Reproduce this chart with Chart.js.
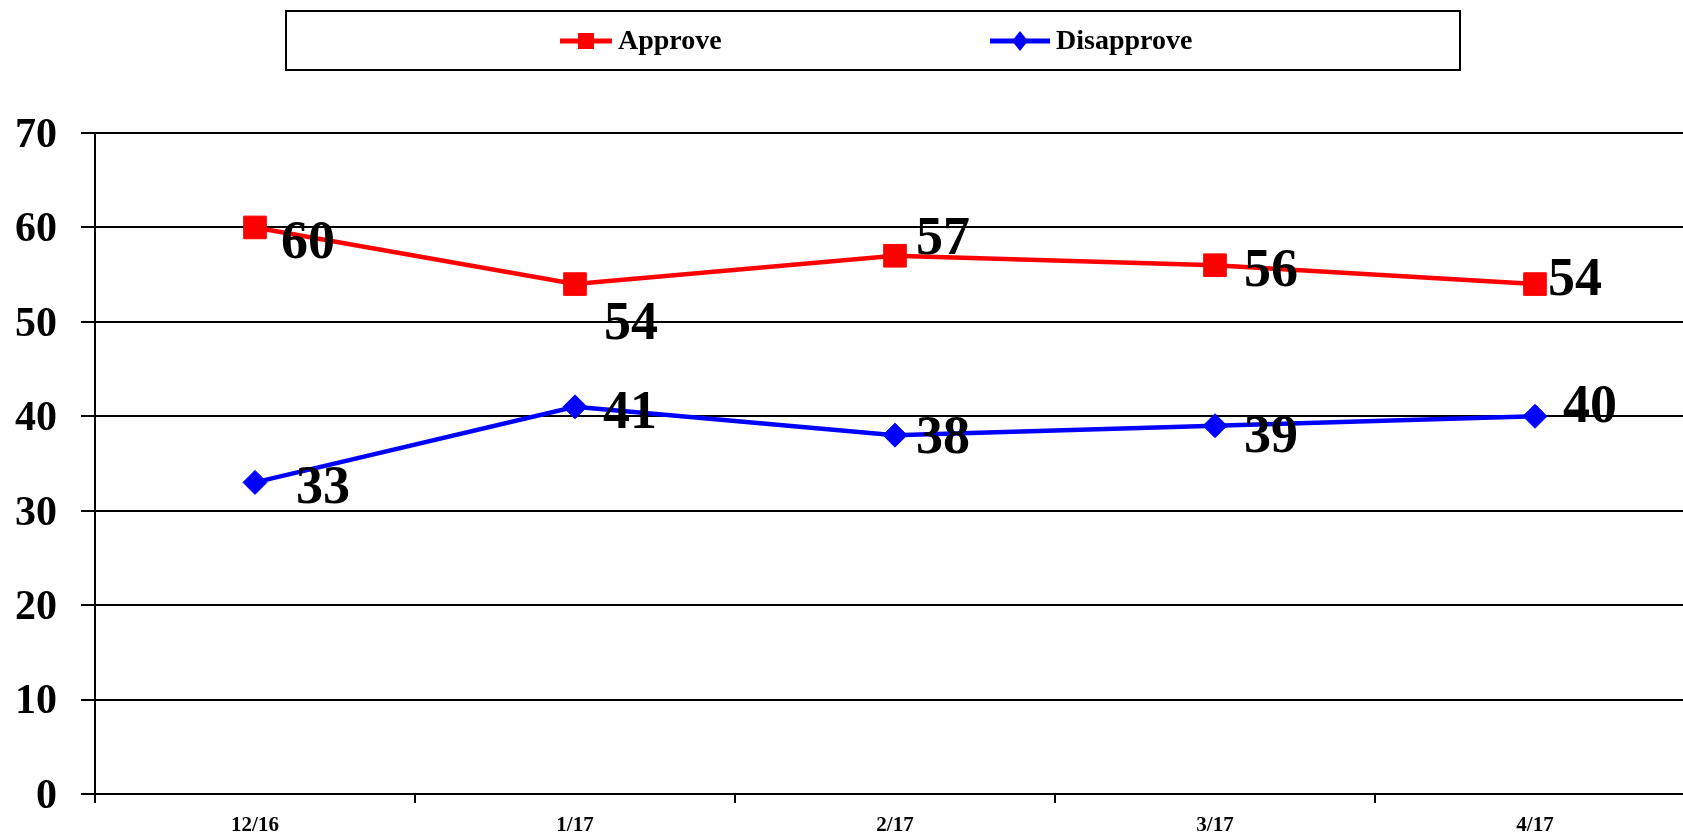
<!DOCTYPE html>
<html>
<head>
<meta charset="utf-8">
<script src="https://cdn.jsdelivr.net/npm/chart.js@4/dist/chart.umd.min.js"></script>
<style>
html,body{margin:0;padding:0;background:#fff;overflow:hidden;width:1683px;height:832px;}
#wrap{position:relative;left:0;top:0;width:1683px;height:832px;overflow:hidden;}
#c{display:block;width:1712px;height:832px;max-width:none;}
</style>
</head>
<body>
<div id="wrap"><canvas id="c" width="1712" height="832" style="width:1712px;height:832px;max-width:none;"></canvas></div>
<script>
const categories = ["12/16", "1/17", "2/17", "3/17", "4/17"];
const approve = [60, 54, 57, 56, 54];
const disapprove = [33, 41, 38, 39, 40];
const yTicks = [0, 10, 20, 30, 40, 50, 60, 70];

// label placement offsets (pixels from point), kept apart from the data
const approveLabelOffsets = [[53, 17], [56, 41], [48, -16], [56, 7], [40, -3]];
const disapproveLabelOffsets = [[68, 7], [55, 7], [48, 4], [56, 12], [55, -8]];

const FONT = "'Liberation Serif', 'Times New Roman', serif";

const dataLabelPlugin = {
  id: 'dataLabels',
  afterDatasetsDraw(chart) {
    const ctx = chart.ctx;
    ctx.save();
    ctx.font = "bold 54px " + FONT;
    ctx.fillStyle = '#000';
    ctx.textAlign = 'center';
    ctx.textBaseline = 'middle';
    chart.data.datasets.forEach((ds, i) => {
      const meta = chart.getDatasetMeta(i);
      const offs = ds.labelOffsets || [];
      meta.data.forEach((pt, j) => {
        const o = offs[j] || [40, 0];
        ctx.fillText(String(ds.data[j]), pt.x + o[0], pt.y + o[1]);
      });
    });
    ctx.restore();
  }
};

const legendPlugin = {
  id: 'boxLegend',
  afterDraw(chart) {
    const ctx = chart.ctx;
    ctx.save();
    ctx.strokeStyle = '#000';
    ctx.lineWidth = 2;
    ctx.strokeRect(286, 11, 1174, 59);
    const items = [
      {x: 560, len: 52, ds: chart.data.datasets[0]},
      {x: 990, len: 60, ds: chart.data.datasets[1]}
    ];
    const y = 41;
    items.forEach(it => {
      const c = it.ds.borderColor;
      const len = it.len;
      ctx.strokeStyle = c;
      ctx.lineWidth = 5;
      ctx.beginPath();
      ctx.moveTo(it.x, y);
      ctx.lineTo(it.x + len, y);
      ctx.stroke();
      ctx.fillStyle = c;
      const cx = it.x + len / 2;
      if (it.ds.pointStyle === 'rect') {
        ctx.fillRect(cx - 8, y - 8, 16, 16);
      } else {
        ctx.beginPath();
        ctx.moveTo(cx, y - 10);
        ctx.lineTo(cx + 8, y);
        ctx.lineTo(cx, y + 10);
        ctx.lineTo(cx - 8, y);
        ctx.closePath();
        ctx.fill();
      }
      ctx.fillStyle = '#000';
      ctx.font = "bold 28px " + FONT;
      ctx.textAlign = 'left';
      ctx.textBaseline = 'middle';
      ctx.fillText(it.ds.label, it.x + len + 6, y + 1);
    });
    ctx.restore();
  }
};

new Chart(document.getElementById('c'), {
  type: 'line',
  data: {
    labels: categories,
    datasets: [
      {
        label: 'Approve',
        data: approve,
        borderColor: '#FF0000',
        backgroundColor: '#FF0000',
        borderWidth: 4.5,
        pointStyle: 'rect',
        pointRadius: 16,
        pointBorderWidth: 1,
        tension: 0,
        labelOffsets: approveLabelOffsets
      },
      {
        label: 'Disapprove',
        data: disapprove,
        borderColor: '#0000FF',
        backgroundColor: '#0000FF',
        borderWidth: 4.5,
        pointStyle: 'rectRot',
        pointRadius: 12,
        pointBorderWidth: 1,
        tension: 0,
        labelOffsets: disapproveLabelOffsets
      }
    ]
  },
  options: {
    responsive: false,
    animation: false,
    layout: { padding: { top: 133, right: 17, left: 0, bottom: 0 } },
    plugins: {
      legend: { display: false },
      tooltip: { enabled: false }
    },
    scales: {
      x: {
        offset: true,
        grid: {
          display: true,
          offset: true,
          drawOnChartArea: false,
          drawTicks: true,
          tickLength: 9,
          color: '#000',
          lineWidth: 2
        },
        border: { display: true, color: '#000', width: 2 },
        ticks: {
          color: '#000',
          font: { family: FONT, size: 21, weight: 'bold' },
          padding: 10,
          maxRotation: 0,
          autoSkip: false
        },
        afterFit(scale) {
          scale.height = 38;
          scale.paddingLeft = 0; scale.paddingRight = 0;
          scale.paddingTop = 0; scale.paddingBottom = 0;
        }
      },
      y: {
        min: 0,
        max: 70,
        afterBuildTicks(scale) { scale.ticks = yTicks.map(v => ({ value: v })); },
        grid: {
          color: '#000',
          lineWidth: 2,
          drawTicks: true,
          tickLength: 14
        },
        border: { display: true, color: '#000', width: 2 },
        ticks: {
          color: '#000',
          font: { family: FONT, size: 42, weight: 'bold' },
          padding: 24,
          labelOffset: 3
        },
        afterFit(scale) {
          scale.width = 95;
          scale.paddingLeft = 0; scale.paddingRight = 0;
          scale.paddingTop = 0; scale.paddingBottom = 0;
        }
      }
    }
  },
  plugins: [dataLabelPlugin, legendPlugin]
});
</script>
</body>
</html>
